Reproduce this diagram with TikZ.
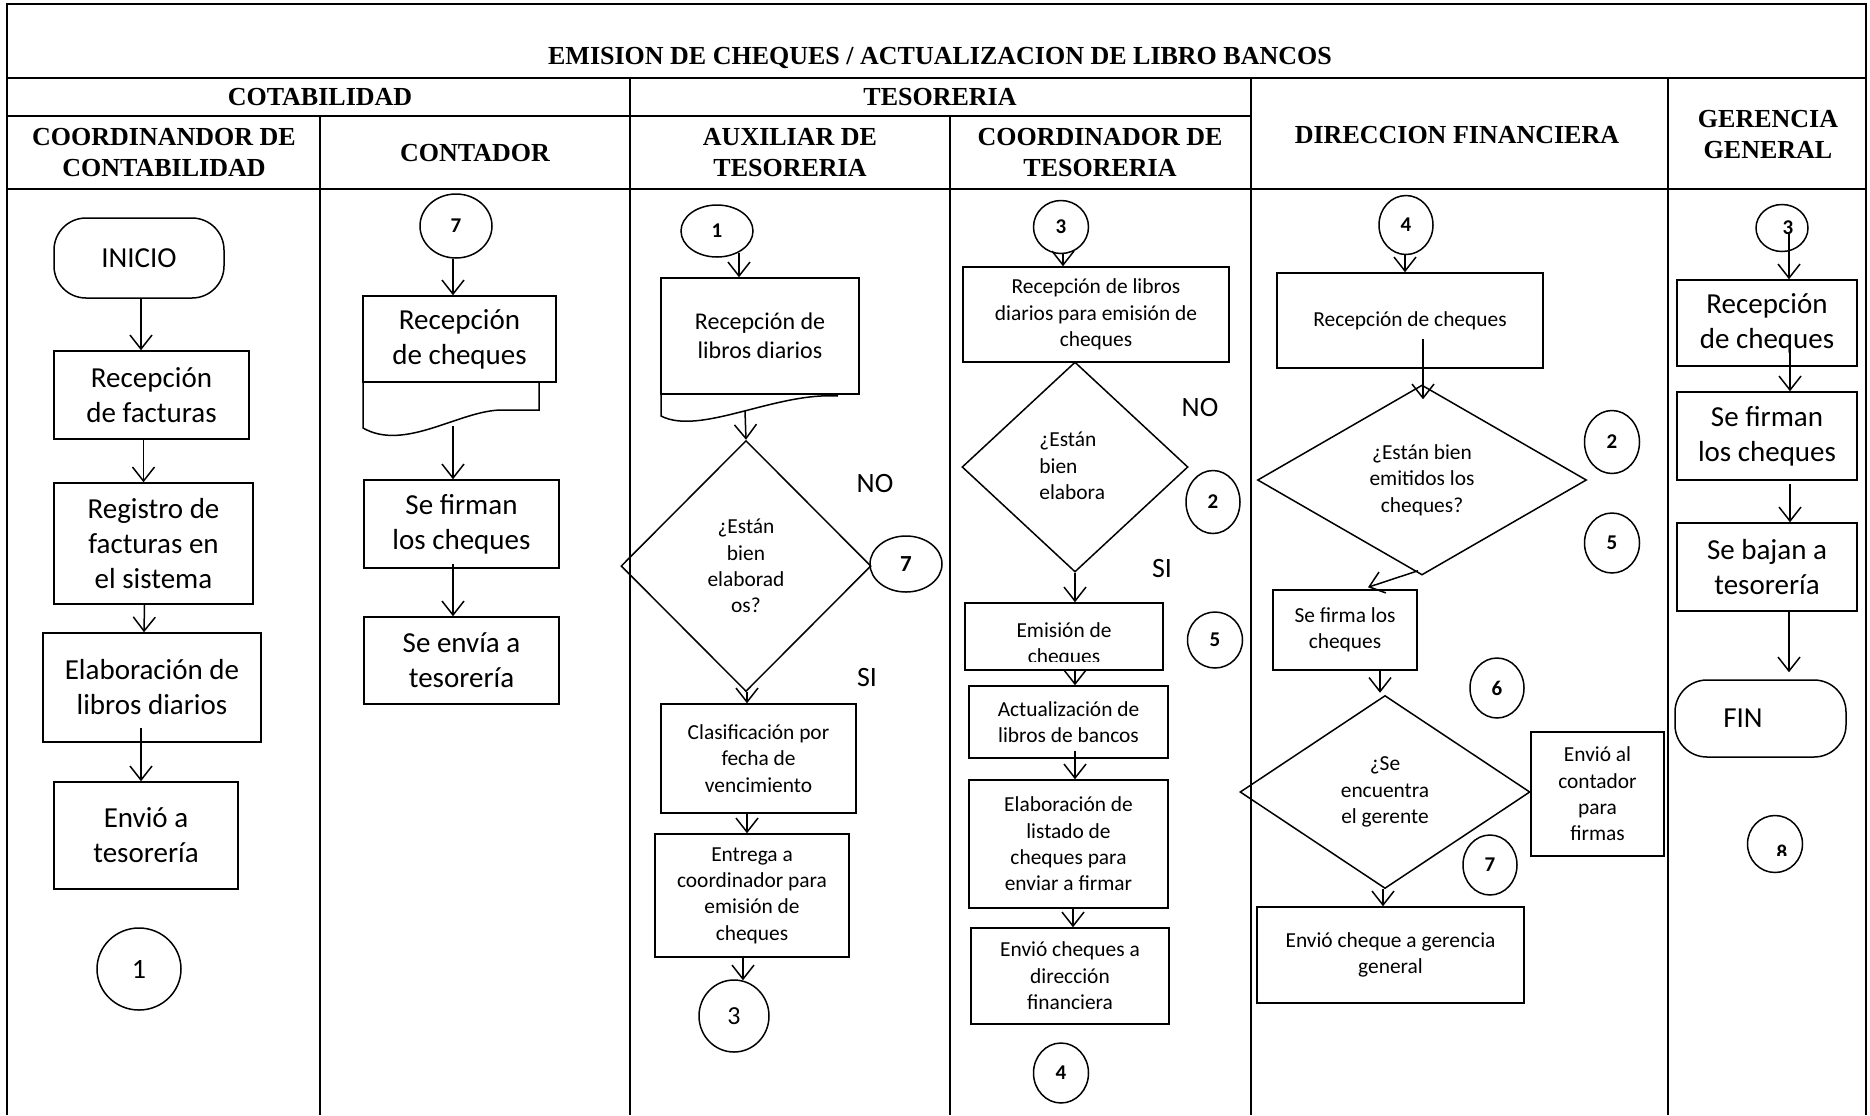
\documentclass[tikz,border=0pt]{standalone}
\usepackage{fontspec}
\setmainfont{Carlito}
\newfontfamily\hdr{Liberation Serif}
\usetikzlibrary{shapes.geometric,arrows.meta,calc}
\newcommand\bigf{\fontsize{14.5}{17.5}\selectfont}
\newcommand\midf{\fontsize{12}{14.5}\selectfont}
\newcommand\smf{\fontsize{10.7}{13.2}\selectfont}
\newcommand\nof{\fontsize{14}{17}\selectfont}
\newcommand\numf{\fontsize{10.5}{12}\selectfont\bfseries}
\newcommand\hdrf{\hdr\bfseries\fontsize{13}{15.5}\selectfont}
\newcommand\bxn[7][box]{%
 \pgfmathsetmacro\bcx{(#3+#5)/2}%
 \pgfmathsetmacro\bcy{(#4+#6)/2}%
 \pgfmathsetmacro\bw{(#5-#3)/2}%
 \pgfmathsetmacro\bh{(#6-#4)/2}%
 \node[#1,minimum width=\bw pt,minimum height=\bh pt] (#2) at (\bcx,\bcy) {#7};}
\newcommand\cirn[7][]{%
 \pgfmathsetmacro\cw{#5/2}\pgfmathsetmacro\ch{#6/2}%
 \node[circ,minimum width=\cw pt,minimum height=\ch pt,#1] (#2) at (#3,#4) {#7};}
\begin{document}
\begin{tikzpicture}[x=0.5pt,y=-0.5pt,
  box/.style={draw,line width=0.75pt,inner sep=0pt,align=center,font=\smf},
  term/.style={box,rounded corners=16pt},
  circ/.style={ellipse,draw,line width=0.75pt,inner sep=0pt,font=\numf},
  dia/.style={diamond,draw,line width=0.75pt,inner sep=0pt,align=center,font=\smf},
  arr/.style={line width=0.75pt,-{Straight Barb[length=7pt,width=11pt]}},
  shp/.style={line width=0.75pt},
  frame/.style={line width=1.3pt},
  lane/.style={line width=1.1pt},
  hd/.style={font=\hdrf,align=center,inner sep=0pt},
  lbl/.style={font=\nof,inner sep=0pt}]
\useasboundingbox (0,0) rectangle (1870,1115);
% frame and lanes
\draw[frame] (7,1115) -- (7,4) -- (1866,4) -- (1866,1115);
\draw[frame] (7,78) -- (1866,78);
\draw[lane] (7,116) -- (1251,116);
\draw[frame] (7,189) -- (1866,189);
\draw[lane] (320,116) -- (320,1115);
\draw[lane] (630,78) -- (630,1115);
\draw[lane] (950,116) -- (950,1115);
\draw[lane] (1251,78) -- (1251,1115);
\draw[lane] (1668,78) -- (1668,1115);
% headers
\node[hd] (ttl) at (940,58) {EMISION DE CHEQUES / ACTUALIZACION DE LIBRO BANCOS};
\node[hd] (hcont) at (320,97) {COTABILIDAD};
\node[hd] (htes) at (940,97) {TESORERIA};
\node[hd] (hcc) at (164,153) {COORDINANDOR DE\\CONTABILIDAD};
\node[hd] (hco) at (475,153) {CONTADOR};
\node[hd] (hau) at (790,153) {AUXILIAR DE\\TESORERIA};
\node[hd] (hct) at (1100,153) {COORDINADOR DE\\TESORERIA};
\node[hd] (hdf) at (1457,135) {DIRECCION FINANCIERA};
\node[hd] (hgg) at (1768,135) {GERENCIA\\GENERAL};
% lane 1
\bxn[term,font=\bigf]{ini}{54}{218}{224}{298}{INICIO}
\bxn[box,font=\bigf]{b1a}{54}{351}{249}{439}{Recepción\\de facturas}
\bxn[box,font=\bigf]{b1b}{54}{483}{253}{604}{Registro de\\facturas en\\el sistema}
\bxn[box,font=\bigf]{b1c}{43}{633}{261}{742}{Elaboración de\\libros diarios}
\bxn[box,font=\bigf]{b1d}{54}{782}{238}{889}{Envió a\\tesorería}
\cirn[font=\fontsize{14}{17}\selectfont]{c1}{139}{969}{84}{82}{1}
\draw[arr] ($(ini.south)+(2,0)$) -- ($(b1a.north)+(-10.5,0)$);
\draw[arr] ($(b1a.south)+(-8,0)$) -- ($(b1b.north)+(-10,0)$);
\draw[arr] ($(b1b.south)+(-9,0)$) -- ($(b1c.north)+(-8,0)$);
\draw[arr] ($(b1c.south)+(-11,-15)$) -- ($(b1d.north)+(-5,0)$);
% lane 2
\cirn{c7a}{456}{226}{72}{64}{7}
\bxn[box,font=\bigf]{d2}{363}{296}{556}{382}{Recepción\\de cheques}
\draw[shp] (363,382) -- (363,428) .. controls (405,452) and (460,410) .. (502,410) -- (539,410) -- (539,382);
\bxn[box,font=\bigf]{b2b}{364}{480}{559}{568}{Se firman\\los cheques}
\bxn[box,font=\bigf]{b2c}{364}{617}{559}{704}{Se envía a\\tesorería}
\draw[arr] ($(c7a.south)+(-3,0)$) -- ($(d2.north)+(-6.5,0)$);
\draw[arr] ($(d2.south)+(-6.5,43)$) -- ($(b2b.north)+(-8.5,0)$);
\draw[arr] ($(b2b.south)+(-8.5,-5)$) -- ($(b2c.north)+(-8.5,0)$);
% lane 3
\cirn{c1b}{717}{231}{72}{52}{1}
\bxn[box,font=\midf]{d3}{661}{278}{859}{394}{Recepción de\\libros diarios}
\draw[shp] (661,394) -- (661,416) .. controls (700,436) and (775,392) .. (838,396);
\draw[arr] ($(c1b.south)+(22,-5)$) -- ($(d3.north)+(-21,0)$);
\node[dia,minimum width=125pt,minimum height=125.5pt] (dm3) at (746,566) {¿Están\\bien\\elaborad\\os?};
\draw[arr] ($(d3.south)+(-15,16)$) -- (dm3.north);
\node[lbl] (no3) at (875,483) {NO};
\node[lbl] (si3) at (867,677) {SI};
\cirn[font=\fontsize{11.5}{13}\selectfont\bfseries]{c7b}{906}{564}{72}{56}{7}
\bxn{b3a}{661}{704}{856}{813}{Clasificación por\\fecha de\\vencimiento}
\bxn{b3b}{655}{834}{849}{957}{Entrega a\\coordinador para\\emisión de\\cheques}
\cirn[font=\fontsize{13}{15}\selectfont]{c3}{734}{1016}{70}{72}{3}
\draw[arr] ($(dm3.south)+(1,0)$) -- ($(b3a.north)+(-11.5,0)$);
\draw[arr] ($(b3a.south)+(-11.5,0)$) -- ($(b3b.north)+(-5,0)$);
\draw[arr] ($(b3b.south)+(-9,0)$) -- ($(c3.north)+(9,1)$);
% lane 4
\cirn{c3b}{1061}{227}{55}{53}{3}
\bxn{b4a}{963}{267}{1229}{362}{Recepción de libros\\diarios para emisión de\\cheques}
\node[dia,minimum width=113pt,minimum height=105pt] (dm4) at (1075,467) {};
\node[font=\smf,align=left,anchor=west,inner sep=0pt] (t4) at (1039,466) {¿Están\\bien\\elabora};
\node[lbl] (no4) at (1200,408) {NO};
\cirn{c2a}{1213}{502}{54}{63}{2}
\node[lbl] (si4) at (1162,568) {SI};
\bxn{b4b}{965}{603}{1163}{670}{}
\begin{scope}
\clip (965,603) rectangle (1163,661);
\node[font=\smf,align=center,inner sep=0pt] (t4b) at (1064,645) {Emisión de\\cheques};
\end{scope}
\cirn{c5a}{1215}{640}{55}{56}{5}
\bxn{b4c}{969}{686}{1168}{758}{Actualización de\\libros de bancos}
\bxn{b4d}{969}{780}{1168}{908}{Elaboración de\\listado de\\cheques para\\enviar a firmar}
\bxn{b4e}{971}{928}{1169}{1024}{Envió cheques a\\dirección\\financiera}
\cirn{c4a}{1061}{1073}{55}{60}{4}
\draw[arr] ($(c3b.south)+(2,0)$) -- ($(b4a.north)+(-33,0)$);
\draw[arr] (dm4.south) -- ($(b4b.north)+(11,0)$);
\draw[arr] ($(b4b.south)+(11,0)$) -- ($(b4c.north)+(6.5,0)$);
\draw[arr] ($(b4c.south)+(6.5,-8)$) -- ($(b4d.north)+(6.5,0)$);
\draw[arr] ($(b4d.south)+(4.5,0)$) -- ($(b4e.north)+(3,0)$);
% lane 5
\cirn{c4b}{1406}{225}{54}{59}{4}
\bxn{b5a}{1277}{273}{1543}{368}{Recepción de cheques}
\node[dia,minimum width=164.5pt,minimum height=95pt,aspect=1.7] (dm5) at (1422,480) {¿Están bien\\emitidos los\\cheques?};
\cirn{c2b}{1612}{442}{55}{63}{2}
\cirn{c5b}{1612}{543}{55}{60}{5}
\bxn{b5b}{1273}{590}{1417}{670}{Se firma los\\cheques}
\cirn{c6}{1497}{688}{54}{60}{6}
\node[dia,minimum width=145pt,minimum height=96.5pt,aspect=1.5] (dm5b) at (1385,792) {¿Se\\encuentra\\el gerente};
\bxn{b5c}{1531}{732}{1664}{856}{Envió al\\contador\\para\\firmas}
\cirn{c7c}{1490}{865}{54}{60}{7}
\bxn{b5d}{1257}{907}{1524}{1003}{Envió cheque a gerencia\\general}
\draw[arr] ($(c4b.south)+(-1,0)$) -- ($(b5a.north)+(-5,0)$);
\draw[arr] ($(b5a.south)+(13,-30)$) -- ($(dm5.north)+(1,15)$);
\draw[arr] ($(dm5.south)+(-4,-5)$) -- ($(b5b.north)+(23,-2)$);
\draw[arr] ($(b5b.south)+(35,0)$) -- ($(dm5b.north)+(-5,-2)$);
\draw[arr] ($(dm5b.south)+(-2,0)$) -- ($(b5d.north)+(-7.5,0)$);
% lane 6
\cirn{c3c}{1782}{228}{52}{47}{\hspace*{6pt}3}
\bxn[box,font=\bigf]{b6a}{1677}{280}{1857}{366}{Recepción\\de cheques}
\bxn[box,font=\bigf]{b6b}{1677}{392}{1857}{480}{Se firman\\los cheques}
\bxn[box,font=\bigf]{b6c}{1677}{523}{1857}{611}{Se bajan a\\tesorería}
\bxn[term,font=\bigf]{fin}{1675}{680}{1846}{757}{\hspace*{-17.5pt}FIN}
\cirn{c8}{1775}{844}{55}{57}{}
\begin{scope}
\clip (1760,830) rectangle (1800,855);
\node[font=\numf,inner sep=0pt] (t8) at (1782,852) {8};
\end{scope}
\draw[arr] ($(c3c.center)+(7,6)$) -- ($(b6a.north)+(22,0)$);
\draw[arr] ($(b6a.south)+(23,-24)$) -- ($(b6b.north)+(23,0)$);
\draw[arr] ($(b6b.south)+(23,3)$) -- ($(b6c.north)+(23,0)$);
\draw[arr] ($(b6c.south)+(22,0)$) -- ($(fin.north)+(28.5,-7)$);
\end{tikzpicture}
\end{document}
